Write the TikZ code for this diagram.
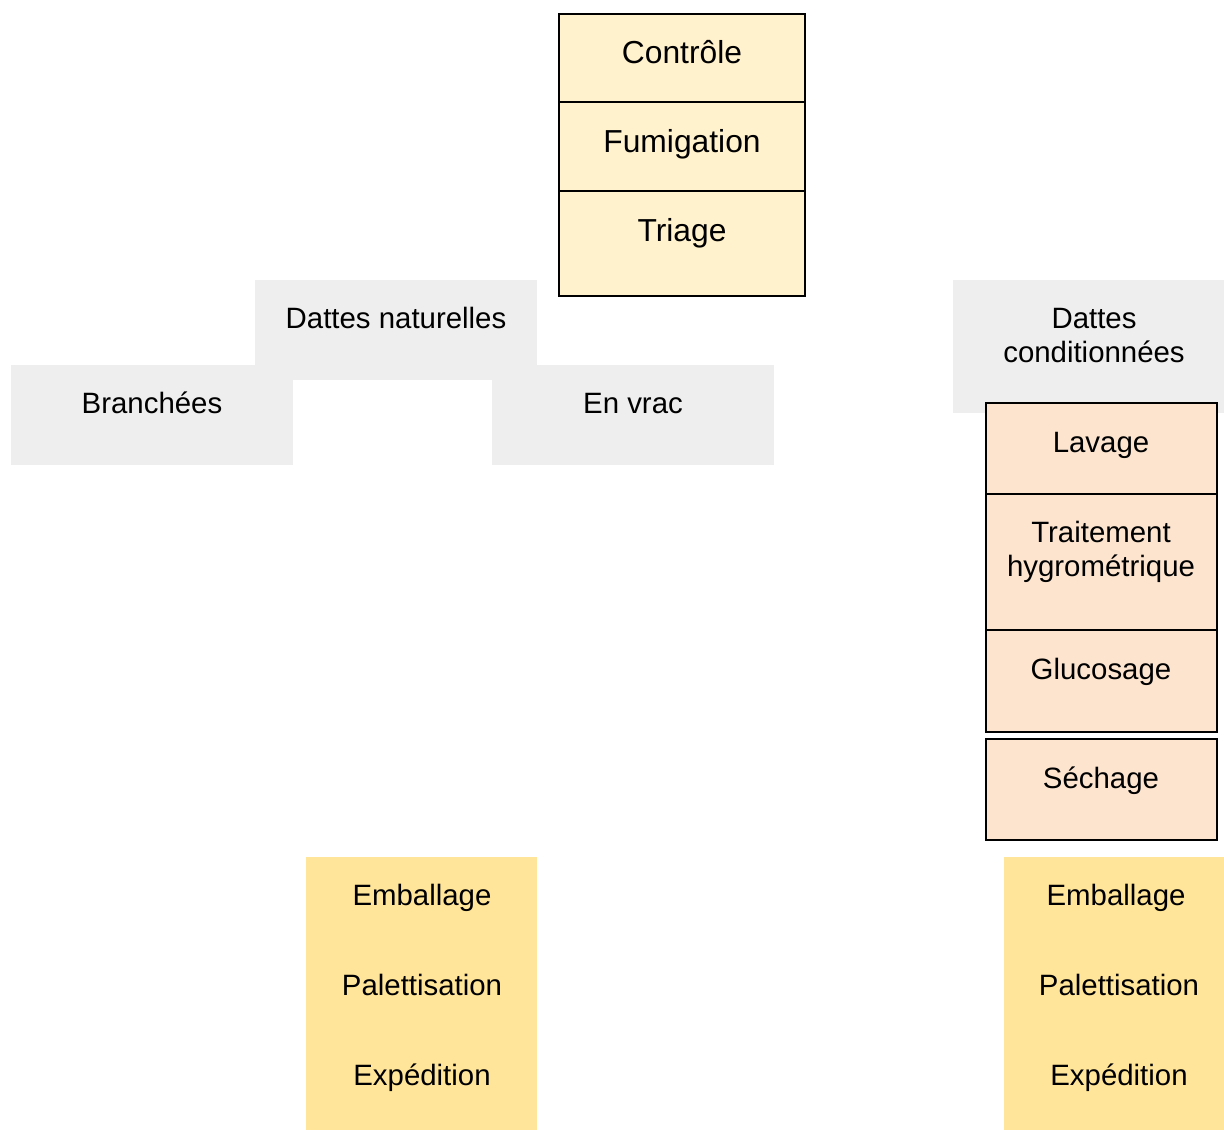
\documentclass[tikz,border=0pt]{standalone}
\usepackage{fontspec}
\setmainfont{Liberation Sans}
\definecolor{creme}{HTML}{FFF2CC}
\definecolor{peche}{HTML}{FCE4CF}
\definecolor{grisclair}{HTML}{EEEEEE}
\definecolor{jaune}{HTML}{FFE599}
\tikzset{
	etiq/.style={anchor=base, inner sep=0pt, font=\fontsize{14.7}{18}\selectfont},
	grande/.style={etiq, font=\fontsize{15.9}{19}\selectfont},
	cadre/.style={draw=black, line width=0.75pt}
}

\begin{document}
\begin{tikzpicture}[x=0.5pt, y=-0.5pt]

	\useasboundingbox (0,0) rectangle (1224,1130);

	%reception: controle, fumigation, triage
	\filldraw[cadre, fill=creme] (559,14) rectangle (805,102);
	\filldraw[cadre, fill=creme] (559,102) rectangle (805,191);
	\filldraw[cadre, fill=creme] (559,191) rectangle (805,296);
	\node[grande] (controle) at (682,63) {Contrôle};
	\node[grande] (fumigation) at (682,152) {Fumigation};
	\node[grande] (triage) at (682,241) {Triage};

	%dattes naturelles and its two kinds
	\fill[grisclair] (255,280) rectangle (537,380);
	\fill[grisclair] (11,365) rectangle (293,465);
	\fill[grisclair] (492,365) rectangle (774,465);
	\node[etiq] (naturelles) at (396,328) {Dattes naturelles};
	\node[etiq] (branchees) at (152,413) {Branchées};
	\node[etiq] (envrac) at (633,413) {En vrac};

	%dattes conditionnees
	\fill[grisclair] (953,280) rectangle (1224,413);
	\node[etiq] (conditA) at (1094,328) {Dattes};
	\node[etiq] (conditB) at (1094,362) {conditionnées};

	%conditionnement steps
	\filldraw[cadre, fill=peche] (986,403) rectangle (1217,494);
	\filldraw[cadre, fill=peche] (986,494) rectangle (1217,630);
	\filldraw[cadre, fill=peche] (986,630) rectangle (1217,732);
	\filldraw[cadre, fill=peche] (986,739) rectangle (1217,840);
	\node[etiq] (lavage) at (1101,452) {Lavage};
	\node[etiq] (traitA) at (1101,542) {Traitement};
	\node[etiq] (traitB) at (1101,576) {hygrométrique};
	\node[etiq] (glucosage) at (1101,679) {Glucosage};
	\node[etiq] (sechage) at (1101,788) {Séchage};

	%expedition, left
	\fill[jaune] (306,857) rectangle (537,1130);
	\node[etiq] (emballG) at (422,905) {Emballage};
	\node[etiq] (paletG) at (422,995) {Palettisation};
	\node[etiq] (expedG) at (422,1085) {Expédition};

	%expedition, right
	\fill[jaune] (1004,857) rectangle (1224,1130);
	\node[etiq] (emballD) at (1116,905) {Emballage};
	\node[etiq] (paletD) at (1119,995) {Palettisation};
	\node[etiq] (expedD) at (1119,1085) {Expédition};

\end{tikzpicture}
\end{document}
